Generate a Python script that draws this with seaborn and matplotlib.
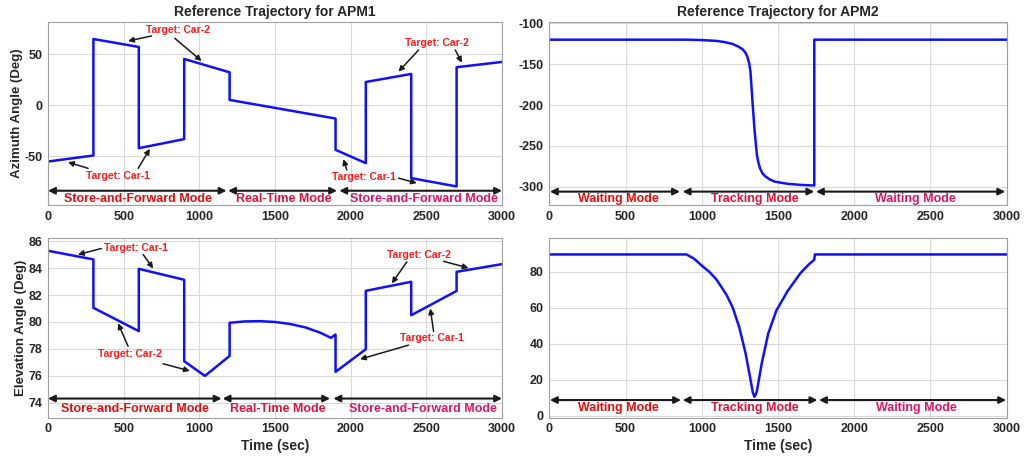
import numpy as np
import pandas as pd
import matplotlib
matplotlib.use("Agg")
import matplotlib.pyplot as plt
import seaborn as sns

# ---------------- data (breakpoints) ----------------
az1_t = [0, 300, 300, 600, 600, 900, 900, 1200, 1200, 1900, 1900, 2100, 2100, 2400, 2400, 2700, 2700, 3000]
az1_v = [-55.3, -49.4, 65.0, 57.2, -42.2, -33.3, 45.4, 32.3, 5.2, -13.1, -43.8, -56.9, 22.8, 30.7, -71.6, -79.8, 37.3, 42.5]

el1_t = [0, 300, 300, 600, 600, 900, 900, 1037, 1200, 1200, 1300, 1400, 1500, 1600, 1700, 1800, 1870, 1900,
         1900, 2100, 2100, 2400, 2400, 2700, 2700, 3000]
el1_v = [85.28, 84.64, 81.05, 79.32, 83.94, 83.13, 77.09, 76.0, 77.48, 79.94, 80.04, 80.06, 80.0, 79.85, 79.6,
         79.2, 78.82, 79.07, 76.3, 77.98, 82.31, 82.98, 80.5, 82.3, 83.72, 84.29]

az2_t = [0, 900, 1000, 1096, 1150, 1202, 1240, 1266, 1285, 1298, 1310, 1319, 1334, 1347, 1362, 1372, 1383, 1398,
         1415, 1445, 1479, 1564, 1649, 1738, 1738, 3000]
az2_v = [-120, -120, -120.5, -121.5, -123, -125.2, -128.5, -131.5, -135.5, -140.5, -148, -158.3, -199.6, -232.6,
         -261.6, -271, -278, -283.5, -287, -291, -293.8, -296.5, -297.8, -298.5, -120, -120]

el2_t = [0, 900, 950, 1000, 1050, 1096, 1160, 1202, 1245, 1287, 1319, 1335, 1345, 1355, 1362, 1394, 1436, 1489,
         1564, 1649, 1700, 1738, 1742, 3000]
el2_v = [89.7, 89.7, 87.3, 83.5, 80.0, 75.8, 67.6, 60.4, 49.5, 34.9, 20.4, 13.0, 10.6, 12.0, 14.0, 29.5, 45.8,
         58.5, 69.5, 79.5, 84.0, 86.8, 89.7, 89.7]

xticks = [0, 500, 1000, 1500, 2000, 2500, 3000]

mode_labels_apm1 = ["Store-and-Forward Mode", "Real-Time Mode", "Store-and-Forward Mode"]
mode_labels_apm2 = ["Waiting Mode", "Tracking Mode", "Waiting Mode"]
mode_colors = ["#dd1010", "#dc143c", "#d8176a"]

# ---------------- styling ----------------
sns.set_theme(style="whitegrid")
plt.rcParams['font.family'] = ['Liberation Sans', 'DejaVu Sans']
plt.rcParams['font.weight'] = 'bold'
plt.rcParams['axes.unicode_minus'] = False

fig = plt.figure(figsize=(10.32, 4.59), dpi=100)
W, H = 1032, 459

def add_ax(x0, x1, y0, y1):
    return fig.add_axes([x0 / W, 1 - y1 / H, (x1 - x0) / W, (y1 - y0) / H])

ax1 = add_ax(48, 502, 21.7, 205)
ax2 = add_ax(48, 502, 237.7, 417.7)
ax3 = add_ax(549.3, 1006.7, 21.7, 205.5)
ax4 = add_ax(549.3, 1006.7, 237.7, 417.7)

series = [(ax1, az1_t, az1_v), (ax2, el1_t, el1_v), (ax3, az2_t, az2_v), (ax4, el2_t, el2_v)]
for ax, t, v in series:
    df = pd.DataFrame({"t": t, "v": v})
    sns.lineplot(data=df, x="t", y="v", ax=ax, sort=False, estimator=None, color="#1010ff", lw=1.8)
    ax.set_xlim(0, 3000)
    ax.set_xticks(xticks)
    ax.set_xlabel("")
    ax.set_ylabel("")
    ax.grid(True, color="#d9d9d9", lw=0.8)
    for s in ax.spines.values():
        s.set_color("#a0a0a0")
        s.set_linewidth(0.8)
    ax.tick_params(axis="both", labelsize=9, length=0, colors="#262626")
    ax.tick_params(axis="x", pad=4)
    ax.tick_params(axis="y", pad=4)

ax1.set_ylim(-98, 82); ax1.set_yticks([-50, 0, 50])
ax2.set_ylim(72.9, 86.25); ax2.set_yticks([74, 76, 78, 80, 82, 84, 86])
ax3.set_ylim(-323, -98); ax3.set_yticks([-300, -250, -200, -150, -100])
ax4.set_ylim(-1, 99); ax4.set_yticks([0, 20, 40, 60, 80])
for ax in (ax1, ax2, ax3, ax4):
    for lab in ax.get_xticklabels() + ax.get_yticklabels():
        lab.set_fontweight("bold")

ax1.set_title("Reference Trajectory for APM1", fontsize=10, fontweight="bold", pad=4)
ax3.set_title("Reference Trajectory for APM2", fontsize=10, fontweight="bold", pad=4)
ax1.set_ylabel("Azimuth Angle (Deg)", fontsize=9.5, fontweight="bold", labelpad=1)
ax2.set_ylabel("Elevation Angle (Deg)", fontsize=9.5, fontweight="bold", labelpad=1)
ax2.set_xlabel("Time (sec)", fontsize=10, fontweight="bold", labelpad=3)
ax4.set_xlabel("Time (sec)", fontsize=10, fontweight="bold", labelpad=3)

# ---------------- mode arrows ----------------
def modes(ax, spans, y_arrow, y_text, labels, centers):
    for (a, b), lab, c, col in zip(spans, labels, centers, mode_colors):
        ax.annotate("", xy=(b, y_arrow), xytext=(a, y_arrow),
                    arrowprops=dict(arrowstyle="<|-|>", color="k", lw=1.5, shrinkA=0, shrinkB=0,
                                    mutation_scale=10))
        ax.text(c, y_text, lab, color=col, fontsize=9, fontweight="bold", ha="center", va="center")

modes(ax1, [(0, 1180), (1190, 1910), (1925, 3000)], -84, -92, mode_labels_apm1, [591, 1555, 2482])
modes(ax2, [(0, 1147), (1154, 1864), (1886, 3000)], 74.32, 73.57, mode_labels_apm1, [574, 1515, 2477])
modes(ax3, [(4, 857), (875, 1738), (1749, 2990)], -306, -315, mode_labels_apm2, [453, 1349, 2403])
modes(ax4, [(4, 864), (875, 1758), (1769, 2996)], 8.8, 4.6, mode_labels_apm2, [453, 1349, 2410])

# ---------------- target annotations ----------------
def target(ax, label, pos, arrows):
    ax.text(pos[0], pos[1], label, color="#ff1a1a", fontsize=7.5, fontweight="bold", ha="center", va="center")
    for tail, head in arrows:
        ax.annotate("", xy=head, xytext=tail,
                    arrowprops=dict(arrowstyle="-|>", color="k", lw=1.1, shrinkA=0, shrinkB=0,
                                    mutation_scale=8))

target(ax1, "Target: Car-2", (860, 73.8), [((684, 68), (529, 63)), ((838, 65.7), (1015, 43.4))])
target(ax1, "Target: Car-1", (463, -70), [((265, -62), (132, -55.9)), ((596, -62), (673, -42.8))])
target(ax1, "Target: Car-2", (2570, 61.4), [((2449, 54.2), (2316, 33)), ((2691, 54.2), (2735, 41.8))])
target(ax1, "Target: Car-1", (2085, -70.6), [((1974, -63.4), (1952, -53)), ((2316, -71.6), (2437, -76.5))])

target(ax2, "Target: Car-1", (584, 85.5), [((353, 85.45), (198, 85.0)), ((629, 85.0), (695, 83.97))])
target(ax2, "Target: Car-2", (540, 77.6), [((529, 78.2), (463, 79.9)), ((761, 76.9), (937, 76.37))])
target(ax2, "Target: Car-2", (2449, 85.0), [((2371, 84.46), (2272, 82.86)), ((2614, 84.5), (2779, 84.0))])
target(ax2, "Target: Car-1", (2537, 78.78), [((2382, 78.28), (2062, 77.24)), ((2548, 79.3), (2526, 81.0))])

fig.savefig("out.png", dpi=100)
